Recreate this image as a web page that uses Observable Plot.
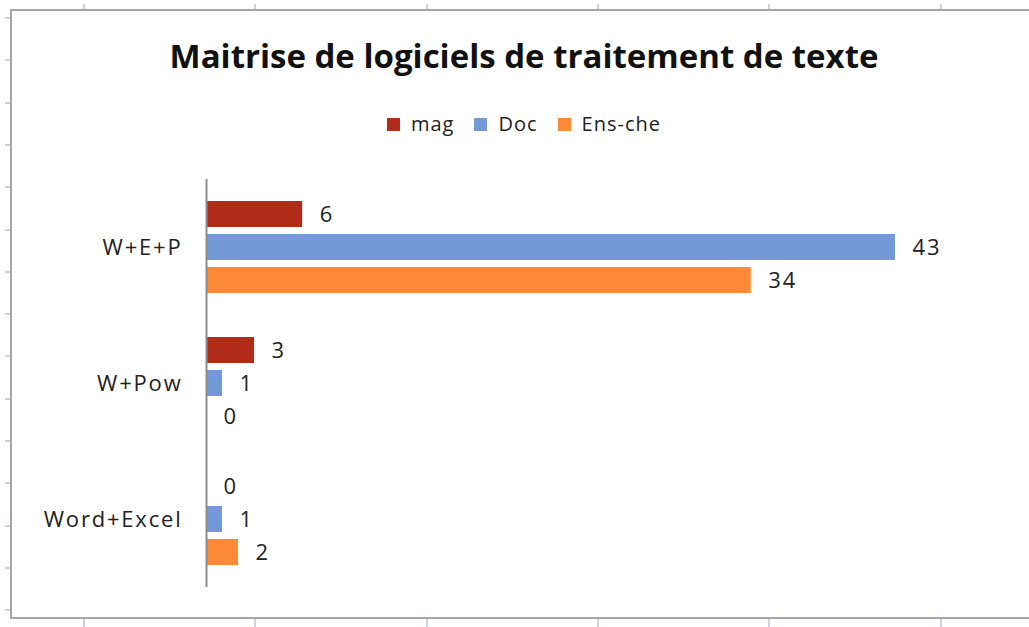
<!DOCTYPE html>
<html>
<head>
<meta charset="utf-8">
<script src="https://cdn.jsdelivr.net/npm/d3@7"></script>
<script src="https://cdn.jsdelivr.net/npm/@observablehq/plot@0.6"></script>
<style>
  html, body { margin: 0; padding: 0; background: #fff; }
  #page { position: relative; width: 1029px; height: 627px; overflow: hidden; font-family: "Open Sans", sans-serif; }
  #frame { position: absolute; left: 10px; top: 9px; width: 1040px; height: 610px; border: 2px solid #a6a6a6; box-sizing: border-box; }
  #tickTop, #tickBottom { position: absolute; left: 0; width: 1029px; height: 5px;
    background: repeating-linear-gradient(to right, transparent 0 83px, #c9d2ea 83px 85px, transparent 85px 171.3px); }
  #tickTop { top: 4px; }
  #tickBottom { top: 619px; height: 8px; }
  #tickLeft { position: absolute; left: 5px; top: 0; width: 5px; height: 627px;
    background: repeating-linear-gradient(to bottom, transparent 0 17px, #c9d2ea 17px 19px, transparent 19px 42.3px); }
  #title { position: absolute; left: 0; width: 1048px; top: 33px; text-align: center; font-weight: bold; font-size: 33px; color: #111; }
  #legend { position: absolute; left: 0; width: 1048px; top: 110px; text-align: center; font-size: 20px; letter-spacing: 1px; color: #222; }
  #legend span.item { margin: 0 10px; }
  #legend span.sw { display: inline-block; width: 13px; height: 13px; margin-right: 11px; vertical-align: 0px; }
  #chart { position: absolute; left: 0; top: 0; }
</style>
</head>
<body>
<div id="page">
  <div id="tickTop"></div>
  <div id="tickBottom"></div>
  <div id="tickLeft"></div>
  <div id="frame"></div>
  <div id="title">Maitrise de logiciels de traitement de texte</div>
  <div id="legend"></div>
  <div id="chart"></div>
</div>
<script>
const categories = ["W+E+P", "W+Pow", "Word+Excel"];
const series = ["mag", "Doc", "Ens-che"];
const colors = ["#b22b18", "#7399d7", "#fe8a37"];
const magValues = [6, 3, 0];
const docValues = [43, 1, 1];
const ensValues = [34, 0, 2];

const valuesBySeries = [magValues, docValues, ensValues];
const data = [];
categories.forEach((c, i) => {
  series.forEach((s, j) => {
    data.push({category: c, series: s, value: valuesBySeries[j][i]});
  });
});

const legend = document.getElementById("legend");
series.forEach((s, j) => {
  const item = document.createElement("span");
  item.className = "item";
  const sw = document.createElement("span");
  sw.className = "sw";
  sw.style.background = colors[j];
  item.appendChild(sw);
  item.appendChild(document.createTextNode(s));
  legend.appendChild(item);
});

const chart = Plot.plot({
  width: 1029,
  height: 627,
  marginTop: 178,
  marginBottom: 40,
  marginLeft: 206,
  marginRight: 134,
  style: {fontFamily: "'Open Sans', sans-serif", fontSize: "22px", letterSpacing: "1.8px", background: "transparent", color: "#222"},
  x: {domain: [0, 43], axis: null},
  y: {domain: series, axis: null, paddingInner: 0.224, paddingOuter: 0.647},
  fy: {domain: categories, padding: 0, label: null, tickSize: 0, tickPadding: 24, fontSize: 22},
  color: {domain: series, range: colors},
  marks: [
    Plot.barX(data, {fy: "category", y: "series", x: "value", fill: "series"}),
    Plot.text(data, {fy: "category", y: "series", x: "value", text: d => String(d.value), textAnchor: "start", dx: 17, fill: "#222", fontSize: 22}),
    Plot.ruleX([0], {stroke: "#8c8c8c", strokeWidth: 2})
  ]
});
chart.style.overflow = "visible";
document.getElementById("chart").appendChild(chart);
</script>
</body>
</html>
